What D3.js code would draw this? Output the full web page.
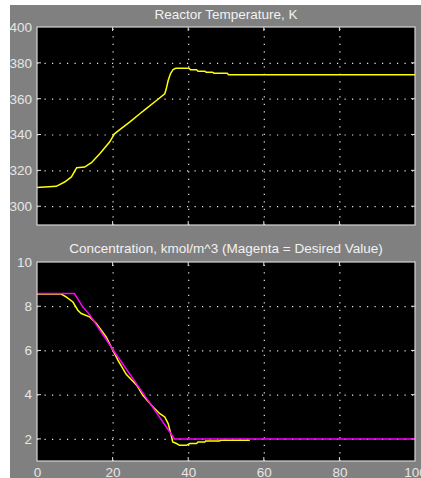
<!DOCTYPE html>
<html><head><meta charset="utf-8">
<script src="https://cdn.jsdelivr.net/npm/d3@7"></script>
<style>
html,body{margin:0;padding:0;background:#fff;}
svg{display:block;}
text{font-family:"Liberation Sans",Arial,sans-serif;}
</style></head>
<body><div id="chart"></div>
<script>
// ---- data ----
const xTicks = [0, 20, 40, 60, 80, 100];
const tempTicks = [300, 320, 340, 360, 380, 400];
const concTicks = [2, 4, 6, 8, 10];

const tempTime = [0, 2, 5.1, 7.3, 9.1, 10.5, 12.6, 14.4, 16.6, 19.2, 20.5, 21.9, 24.5, 27.2, 28.9, 31.6, 33.8, 34.2, 34.7, 35.3, 36.0, 36.7, 40.2, 40.6, 42.2, 42.6, 44.4, 44.8, 46.4, 46.8, 50.3, 50.7, 100];
const tempVal  = [310.4, 310.7, 311.1, 313.5, 316.3, 321.5, 321.8, 324.3, 329.3, 335.8, 340.4, 342.7, 346.9, 351.6, 354.4, 359.0, 362.7, 365.5, 370.1, 373.9, 376.3, 377.0, 377.0, 376.1, 376.1, 375.3, 375.3, 374.8, 374.8, 374.2, 374.2, 373.3, 373.3];

const concTime = [0, 6.4, 7.7, 9.5, 10.8, 11.7, 13.9, 15.7, 18.3, 20.1, 21.4, 23.6, 26.5, 28.0, 30.7, 32.5, 33.8, 34.7, 35.5, 35.9, 36.9, 37.7, 39.5, 40.4, 42.2, 42.6, 44.4, 44.6, 48.3, 48.6, 56.3];
const concVal  = [8.55, 8.55, 8.42, 8.19, 7.82, 7.67, 7.52, 7.22, 6.61, 6.0, 5.56, 4.92, 4.40, 3.97, 3.44, 3.14, 2.99, 2.69, 2.16, 1.86, 1.79, 1.71, 1.71, 1.79, 1.79, 1.86, 1.86, 1.90, 1.90, 1.94, 1.94];

const setTime = [0, 9.9, 12.1, 13.9, 20.1, 27.2, 36.4, 100];
const setVal  = [8.57, 8.57, 7.97, 7.62, 6.03, 4.27, 2.0, 2.0];

// ---- layout ----
const W = 421, H = 478;
const svg = d3.select("#chart").append("svg").attr("width", W).attr("height", H);
svg.append("rect").attr("x", 10).attr("y", 5).attr("width", W - 10).attr("height", H - 5).attr("fill", "#808080");

const left = 37, right = 415;
const x = d3.scaleLinear().domain([0, 100]).range([left, right]);

function panel(top, bottom, domain, ticks, title, titleY, showX) {
  const y = d3.scaleLinear().domain(domain).range([bottom, top]);
  const g = svg.append("g");
  g.append("rect").attr("x", left).attr("y", top).attr("width", right - left).attr("height", bottom - top).attr("fill", "#000");
  // grid
  const gridX = g.append("g").attr("transform", `translate(0,${bottom})`)
    .call(d3.axisBottom(x).tickValues(xTicks.slice(1, -1)).tickSize(-(bottom - top)).tickFormat(""));
  gridX.select(".domain").remove();
  gridX.selectAll("line").attr("stroke", "#e8e8e8").attr("stroke-width", 1.2).attr("stroke-dasharray", "1.2,6.3");
  const gridY = g.append("g").attr("transform", `translate(${left},0)`)
    .call(d3.axisLeft(y).tickValues(ticks.filter(t => t > domain[0] && t < domain[1])).tickSize(-(right - left)).tickFormat(""));
  gridY.select(".domain").remove();
  gridY.selectAll("line").attr("stroke", "#e8e8e8").attr("stroke-width", 1.2).attr("stroke-dasharray", "1.2,6.3");
  // small inner tick marks
  const tk = g.append("g").attr("stroke", "#e0e0e0").attr("stroke-width", 1);
  xTicks.slice(1, -1).forEach(t => {
    tk.append("line").attr("x1", x(t)).attr("x2", x(t)).attr("y1", bottom).attr("y2", bottom - 4);
    tk.append("line").attr("x1", x(t)).attr("x2", x(t)).attr("y1", top).attr("y2", top + 4);
  });
  ticks.filter(t => t > domain[0] && t < domain[1]).forEach(t => {
    tk.append("line").attr("x1", left).attr("x2", left + 4).attr("y1", y(t)).attr("y2", y(t));
    tk.append("line").attr("x1", right).attr("x2", right - 4).attr("y1", y(t)).attr("y2", y(t));
  });
  // y labels
  const ya = g.append("g").attr("transform", `translate(${left},0)`)
    .call(d3.axisLeft(y).tickValues(ticks).tickSize(0).tickPadding(5));
  ya.select(".domain").remove();
  ya.selectAll("text").attr("fill", "#e6e6e6").style("font-size", "13.5px").attr("font-family", "Liberation Sans, Arial, sans-serif");
  if (showX) {
    const xa = g.append("g").attr("transform", `translate(0,${bottom})`)
      .call(d3.axisBottom(x).tickValues(xTicks).tickSize(0).tickPadding(6));
    xa.select(".domain").remove();
    xa.selectAll("text").attr("fill", "#e6e6e6").style("font-size", "13.5px").attr("font-family", "Liberation Sans, Arial, sans-serif");
  }
  // title
  svg.append("text").attr("x", (left + right) / 2).attr("y", titleY).attr("text-anchor", "middle")
    .attr("fill", "#f2f2f2").style("font-size", "13.5px").text(title);
  return {g, y, top, bottom};
}

const p1 = panel(27, 225, [289.5, 400], tempTicks, "Reactor Temperature, K", 19, false);
const p2 = panel(262, 461, [1, 10], concTicks, "Concentration, kmol/m^3 (Magenta = Desired Value)", 253, true);

const line1 = d3.line().x(d => x(d[0])).y(d => p1.y(d[1]));
p1.g.append("path").datum(tempTime.map((t, i) => [t, tempVal[i]]))
  .attr("d", line1).attr("fill", "none").attr("stroke", "#ffff00").attr("stroke-width", 1.5);

const line2 = d3.line().x(d => x(d[0])).y(d => p2.y(d[1]));
p2.g.append("path").datum(concTime.map((t, i) => [t, concVal[i]]))
  .attr("d", line2).attr("fill", "none").attr("stroke", "#ffff00").attr("stroke-width", 1.5);
p2.g.append("path").datum(setTime.map((t, i) => [t, setVal[i]]))
  .attr("d", line2).attr("fill", "none").attr("stroke", "#ff00ff").attr("stroke-width", 1.5);

// box borders
[p1, p2].forEach(p => {
  svg.append("rect").attr("x", left).attr("y", p.top).attr("width", right - left).attr("height", p.bottom - p.top)
    .attr("fill", "none").attr("stroke", "#d4d4d4").attr("stroke-width", 1.2);
});
</script>
</body></html>
